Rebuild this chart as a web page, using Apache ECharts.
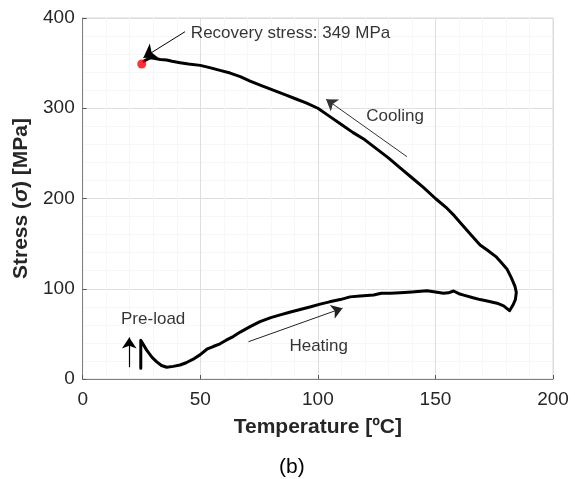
<!DOCTYPE html>
<html>
<head>
<meta charset="utf-8">
<script src="https://cdn.jsdelivr.net/npm/echarts@6/dist/echarts.min.js"></script>
<style>
html,body{margin:0;padding:0;background:#fff;}
#c{width:575px;height:479px;}
</style>
</head>
<body>
<div id="c"></div>
<script>
// Stress–temperature loop: [temperature °C, stress MPa]
var loopData = [
  [24.7,12],[24.7,43],[27.2,32],[29.5,24],[31.5,19],[33.5,15],[35.7,13],[38.5,14],[41.4,15.5],[44,18],
  [47,22],[50,27],[52.8,33],[55.5,36],[58.4,39],[61,43],[64,47],[67,52],[71.2,58],[75.4,63.5],
  [80,68],[84,71],[88,74],[92.5,77],[97,80],[101,83],[105,85.5],[109.5,88],[113.7,91],[118,92],
  [123.7,93],[127,95],[130.8,95],[135,95.6],[140,96.5],[146.4,97.8],[150,96.5],[153.4,95],[155.5,95.5],[157.7,97.5],
  [160,94.5],[162,93],[166,90],[169,88],[172,86.5],[176.2,84],[179,81],[181.5,75.7],
  [183,82],[184,88],[184.4,96],[183.8,103],[182.3,112],[180.4,122],[178,129],[176,135],[172,143],[169,148.5],
  [165,160],[162,169],[158,181],[155,189],[150,200],[145,212],[140,223],[135,234],[130,245],[125,255],
  [120,265],[115,273],[110,282],[105,291],[100,300],[95,306],[91,310],[86,315],[81,320],[76,325],
  [71.2,330],[67,335],[62.7,339],[58.4,342],[54,345],[50,347.5],[45,349],[41.4,350.5],[38,352],[35.7,353.5],
  [33,354],[30.8,355],[29,356],[27.2,354],[26,352]
];
// Recovery stress point
var recoveryPoint = [[25.1,349]];
// Tick settings
var xTicks = {min:0, max:200, interval:50};
var yTicks = {min:0, max:400, interval:100};
// Annotation texts [T, S, text]
var annotTexts = [
  [46,383,'Recovery stress: 349 MPa'],
  [120.6,290.6,'Cooling'],
  [87.9,36.6,'Heating'],
  [16.3,66.5,'Pre-load']
];
// Annotation arrows [fromT, fromS, toT, toS]
var annotArrows = [
  [43.5,384.8,25.8,356],
  [137.9,246.3,103.5,310],
  [70.5,41.3,110.5,78.5],
  [19.8,13,19.8,46]
];

var FONT = 'Arial, "Liberation Sans", Helvetica, sans-serif';
var chart = echarts.init(document.getElementById('c'));
var arrowStyles = [
  {color:'#000', width:1, size:13},
  {color:'#333', width:1, size:11},
  {color:'#222', width:1, size:11},
  {color:'#000', width:1.2, size:11}
];
var option = {
  animation:false,
  backgroundColor:'#fff',
  grid:{left:82.7, right:22, top:18, bottom:100, show:true, borderColor:'#d9d9d9', borderWidth:1},
  xAxis:{
    type:'value', min:xTicks.min, max:xTicks.max, interval:xTicks.interval,
    name:'Temperature [ºC]', nameLocation:'middle', nameGap:38,
    nameTextStyle:{fontFamily:FONT, fontSize:21, fontWeight:'bold', color:'#262626'},
    axisLine:{show:true, lineStyle:{color:'#808080', width:1}},
    axisTick:{show:true, inside:true, length:4, lineStyle:{color:'#555'}},
    axisLabel:{fontFamily:FONT, fontSize:19, color:'#262626', margin:11},
    splitLine:{show:true, lineStyle:{color:'#dedede', width:1}},
    minorTick:{show:false, splitNumber:5},
    minorSplitLine:{show:true, lineStyle:{color:'#f7f7f7', width:1}}
  },
  yAxis:{
    type:'value', min:yTicks.min, max:yTicks.max, interval:yTicks.interval,
    name:'{a|Stress (}{s|σ}{a|) [MPa]}', nameLocation:'middle', nameGap:46, nameRotate:90,
    nameTextStyle:{
      rich:{
        a:{fontFamily:FONT, fontSize:21, fontWeight:'bold', color:'#262626'},
        s:{fontFamily:FONT, fontSize:21, fontWeight:'bold', fontStyle:'italic', color:'#262626'}
      }
    },
    axisLine:{show:true, lineStyle:{color:'#808080', width:1}},
    axisTick:{show:true, inside:true, length:4, lineStyle:{color:'#555'}},
    axisLabel:{fontFamily:FONT, fontSize:19, color:'#262626', margin:8},
    splitLine:{show:true, lineStyle:{color:'#dedede', width:1}},
    minorTick:{show:false, splitNumber:5},
    minorSplitLine:{show:true, lineStyle:{color:'#f7f7f7', width:1}}
  },
  series:[
    {
      type:'line', data:loopData, showSymbol:false, symbol:'none',
      lineStyle:{color:'#000', width:3, join:'round', cap:'round'},
      z:3
    },
    {
      type:'scatter', data:recoveryPoint, symbolSize:9,
      itemStyle:{color:'#ff0000'}, z:4
    },
    {
      type:'scatter',
      data:annotTexts.map(function(a){return {value:[a[0],a[1]], name:a[2]};}),
      symbolSize:0,
      label:{show:true, position:'right', distance:0, formatter:'{b}',
        fontFamily:FONT, fontSize:17, color:'#000'},
      silent:true, z:5
    }
  ].concat(annotArrows.map(function(a,i){
    var st = arrowStyles[i];
    return {
      type:'line', data:[], silent:true, z:5,
      markLine:{
        silent:true, animation:false,
        symbol:['none','arrow'], symbolSize:st.size,
        label:{show:false},
        lineStyle:{color:st.color, width:st.width, type:'solid'},
        itemStyle:{color:st.color},
        data:[[{coord:[a[0],a[1]]},{coord:[a[2],a[3]]}]]
      }
    };
  })),
  graphic:[
    {type:'text', left:279, top:457, style:{text:'(b)', font:'21px '+FONT, fill:'#000'}}
  ]
};
chart.setOption(option);
</script>
</body>
</html>
